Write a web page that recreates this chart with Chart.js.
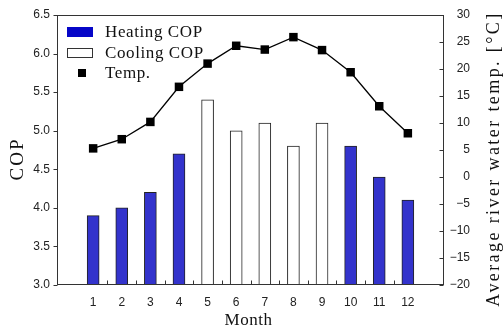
<!DOCTYPE html>
<html>
<head>
<meta charset="utf-8">
<script src="https://cdn.jsdelivr.net/npm/chart.js@4/dist/chart.umd.min.js"></script>
<style>
html,body{margin:0;padding:0;background:#fff;}
#wrap{width:504px;height:330px;}
</style>
</head>
<body>
<div id="wrap"><canvas id="c" width="504" height="330"></canvas></div>
<script>
// ---- data ----
const months = [1, 2, 3, 4, 5, 6, 7, 8, 9, 10, 11, 12];
const heatingCOP = [3.9, 4.0, 4.2, 4.7, null, null, null, null, null, 4.8, 4.4, 4.1];
const coolingCOP = [null, null, null, null, 5.4, 5.0, 5.1, 4.8, 5.1, null, null, null];
const riverTemp = [5.3, 7.0, 10.2, 16.7, 21.0, 24.3, 23.6, 25.9, 23.5, 19.4, 13.1, 8.1];
const seriesLabels = ['Heating COP', 'Cooling COP', 'Temp.'];
const xTitle = 'Month';
const yTitle = 'COP';
const y2Title = 'Average river water temp. [°C]';

const SERIF = '"Liberation Serif", "DejaVu Serif", serif';
const SANS = '"Liberation Sans", Arial, sans-serif';

const pts = arr => months.map((m, i) => ({ x: m, y: arr[i] }));

const decor = {
  id: 'decor',
  afterDraw(chart) {
    const { ctx, chartArea: a, scales } = chart;
    const L = Math.round(a.left) + 0.5, R = Math.round(a.right) - 0.5;
    const T = Math.round(a.top) + 0.5, B = Math.round(a.bottom) - 0.5;
    ctx.save();
    ctx.strokeStyle = '#333';
    ctx.lineWidth = 1;
    ctx.strokeRect(L, T, R - L, B - T);
    ctx.beginPath();
    // x inward ticks at category boundaries
    months.slice(0, -1).forEach(m => {
      const px = Math.round(scales.x.getPixelForValue(m + 0.5)) + 0.5;
      ctx.moveTo(px, B); ctx.lineTo(px, B - 4);
    });
    // left outward ticks
    scales.y.ticks.forEach(t => {
      const py = Math.round(scales.y.getPixelForValue(t.value)) + 0.5;
      ctx.moveTo(L, py); ctx.lineTo(L - 4, py);
    });
    // right inward ticks
    scales.y2.ticks.forEach(t => {
      const py = Math.round(scales.y2.getPixelForValue(t.value)) + 0.5;
      ctx.moveTo(R, py); ctx.lineTo(R - 4, py);
    });
    ctx.stroke();

    // axis titles
    ctx.fillStyle = '#111';
    ctx.textAlign = 'center';
    ctx.textBaseline = 'middle';
    ctx.save();
    ctx.font = '19px ' + SERIF;
    ctx.letterSpacing = '2px';
    ctx.translate(18, (a.top + a.bottom) / 2 + 10);
    ctx.rotate(-Math.PI / 2);
    ctx.fillText(yTitle, 1, 0);
    ctx.restore();

    ctx.save();
    ctx.font = '18px ' + SERIF;
    ctx.letterSpacing = '2.4px';
    ctx.translate(494, (a.top + a.bottom) / 2 + 10);
    ctx.rotate(-Math.PI / 2);
    ctx.fillText(y2Title, 1, 0);
    ctx.restore();

    ctx.save();
    ctx.font = '17px ' + SERIF;
    ctx.letterSpacing = '0.5px';
    ctx.fillText(xTitle, (a.left + a.right) / 2 - 2, 321);
    ctx.restore();

    // legend
    const ds = chart.data.datasets;
    const x0 = a.left + 10, tx = a.left + 48;
    const rows = [a.top + 17, a.top + 38, a.top + 58];
    ctx.fillStyle = '#0606c8';
    ctx.fillRect(x0, rows[0] - 5, 26, 10);
    ctx.fillStyle = '#fff';
    ctx.fillRect(x0, rows[1] - 5, 26, 10);
    ctx.strokeStyle = '#333';
    ctx.strokeRect(x0 + 0.5, rows[1] - 4.5, 25, 9);
    ctx.fillStyle = '#000';
    ctx.fillRect(x0 + 11, rows[2] - 4, 8, 8);
    ctx.fillStyle = '#111';
    ctx.textAlign = 'left';
    ctx.font = '17px ' + SERIF;
    ctx.letterSpacing = '0.6px';
    const byLabel = l => ds.find(d => d.label === l).label;
    ctx.fillText(byLabel(seriesLabels[0]), tx, rows[0] + 1);
    ctx.fillText(byLabel(seriesLabels[1]), tx, rows[1] + 1);
    ctx.fillText(byLabel(seriesLabels[2]), tx, rows[2] + 1);
    ctx.restore();
  }
};

new Chart(document.getElementById('c'), {
  data: {
    datasets: [
      {
        type: 'line', label: seriesLabels[2], data: pts(riverTemp), yAxisID: 'y2', order: 0,
        borderColor: '#000', borderWidth: 1.3, pointStyle: 'rect', pointRadius: 6,
        pointBackgroundColor: '#000', pointBorderColor: '#000', pointBorderWidth: 0, tension: 0
      },
      {
        type: 'bar', label: seriesLabels[0], data: pts(heatingCOP), yAxisID: 'y', order: 1,
        backgroundColor: '#3333cc', borderColor: '#222', borderWidth: 1, barThickness: 12, grouped: false
      },
      {
        type: 'bar', label: seriesLabels[1], data: pts(coolingCOP), yAxisID: 'y', order: 1,
        backgroundColor: '#fff', borderColor: '#222', borderWidth: 1, barThickness: 12, grouped: false
      }
    ]
  },
  options: {
    responsive: false,
    animation: false,
    devicePixelRatio: 1,
    layout: { padding: { top: 15, left: 0, right: 34, bottom: 0 } },
    plugins: { legend: { display: false }, tooltip: { enabled: false } },
    scales: {
      x: {
        type: 'linear', position: 'bottom', min: 0.3, max: 12.7,
        afterBuildTicks: s => { s.ticks = months.map(v => ({ value: v })); },
        afterFit: s => { s.height = 45; },
        grid: { display: false, drawTicks: false },
        border: { display: false },
        ticks: { padding: 10, color: '#222', font: { family: SANS, size: 12 }, maxRotation: 0, autoSkip: false }
      },
      y: {
        type: 'linear', position: 'left', min: 3.0, max: 6.5,
        ticks: { stepSize: 0.5, padding: 7, color: '#222', font: { family: SANS, size: 12 },
          callback: v => v.toFixed(1) },
        afterFit: s => { s.width = 57; },
        grid: { display: false, drawTicks: false },
        border: { display: false }
      },
      y2: {
        type: 'linear', position: 'right', min: -20, max: 30,
        ticks: { stepSize: 5, padding: 6, crossAlign: 'far', color: '#222', font: { family: SANS, size: 12 },
          callback: v => String(v).replace('-', '\u2212') },
        afterFit: s => { s.width = 26; },
        grid: { display: false, drawTicks: false },
        border: { display: false }
      }
    }
  },
  plugins: [decor]
});
</script>
</body>
</html>
